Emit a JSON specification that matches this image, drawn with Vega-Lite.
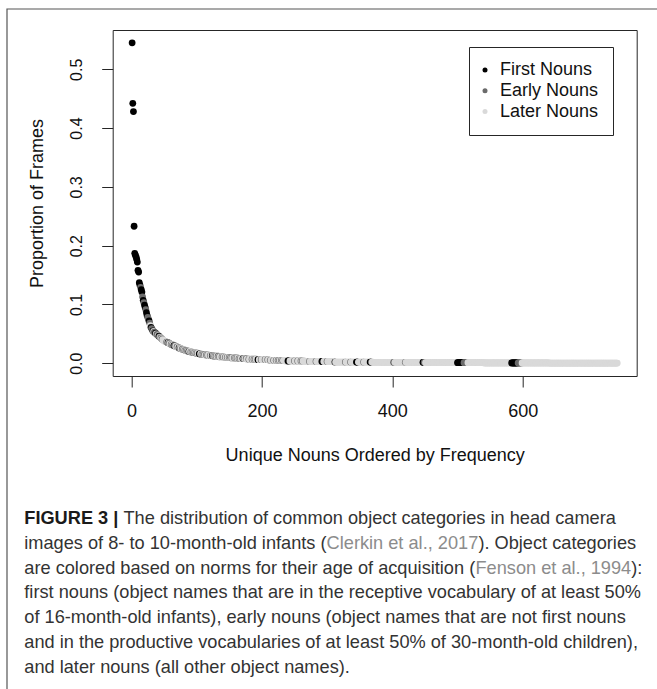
{
"$schema": "https://vega.github.io/schema/vega-lite/v6.json",
"width": 524,
"height": 346,
"autosize": {"type": "none"},
"padding": {"left": 112.7, "top": 30, "right": 20.3, "bottom": 313},
"background": "white",
"config": {
"font": "Liberation Sans",
"view": {"stroke": "#262626", "strokeWidth": 1},
"axis": {"grid": false, "domain": false, "tickColor": "#262626", "tickSize": 11, "labelColor": "#111111", "titleColor": "#111111", "labelFont": "Liberation Sans", "titleFont": "Liberation Sans", "titleFontWeight": "normal"},
"text": {"font": "Liberation Sans"}
},
"resolve": {"scale": {"x": "independent", "y": "independent"}},
"layer": [
{
"data": {"values": [{"frame": "figure"}]},
"mark": {"type": "rect", "filled": false, "stroke": "#555555", "strokeWidth": 1.2},
"encoding": {
"x": {"datum": 0, "type": "quantitative", "scale": {"domain": [0, 1], "range": [-105.7, 560]}, "axis": null},
"x2": {"datum": 1},
"y": {"datum": 0, "type": "quantitative", "scale": {"domain": [0, 1], "range": [-21, 680]}, "axis": null},
"y2": {"datum": 1}
}
},
{
"data": {"values": [
{"n":1,"p":0.545,"t":"F"},{"n":2,"p":0.442,"t":"F"},{"n":3,"p":0.428,"t":"F"},{"n":4,"p":0.233,"t":"F"},{"n":5,"p":0.187,"t":"F"},{"n":6,"p":0.184,"t":"F"},{"n":7,"p":0.181,"t":"F"},{"n":8,"p":0.177,"t":"F"},{"n":9,"p":0.172,"t":"F"},{"n":10,"p":0.158,"t":"F"},
{"n":11,"p":0.155,"t":"F"},{"n":12,"p":0.137,"t":"F"},{"n":13,"p":0.133,"t":"F"},{"n":14,"p":0.129,"t":"E"},{"n":15,"p":0.125,"t":"F"},{"n":16,"p":0.121,"t":"F"},{"n":17,"p":0.113,"t":"E"},{"n":18,"p":0.107,"t":"F"},{"n":19,"p":0.103,"t":"E"},{"n":20,"p":0.099,"t":"F"},
{"n":21,"p":0.095,"t":"F"},{"n":22,"p":0.091,"t":"E"},{"n":23,"p":0.086,"t":"F"},{"n":24,"p":0.081,"t":"F"},{"n":25,"p":0.078,"t":"E"},{"n":26,"p":0.075,"t":"E"},{"n":27,"p":0.072,"t":"F"},{"n":28,"p":0.068,"t":"E"},{"n":29,"p":0.064,"t":"L"},{"n":30,"p":0.061,"t":"F"},
{"n":31,"p":0.059,"t":"E"},{"n":32,"p":0.057,"t":"E"},{"n":33,"p":0.055,"t":"F"},{"n":34,"p":0.054,"t":"L"},{"n":35,"p":0.053,"t":"E"},{"n":36,"p":0.052,"t":"E"},{"n":37,"p":0.051,"t":"F"},{"n":38,"p":0.05,"t":"L"},{"n":39,"p":0.049,"t":"E"},{"n":40,"p":0.048,"t":"E"},
{"n":41,"p":0.047,"t":"L"},{"n":42,"p":0.046,"t":"F"},{"n":43,"p":0.045,"t":"E"},{"n":44,"p":0.044,"t":"L"},{"n":45,"p":0.043,"t":"E"},{"n":46,"p":0.042,"t":"L"},{"n":47,"p":0.041,"t":"E"},{"n":48,"p":0.04,"t":"L"},{"n":49,"p":0.039,"t":"L"},{"n":50,"p":0.038,"t":"L"},
{"n":51,"p":0.0375,"t":"L"},{"n":52,"p":0.037,"t":"L"},{"n":53,"p":0.0365,"t":"L"},{"n":54,"p":0.036,"t":"E"},{"n":55,"p":0.0355,"t":"L"},{"n":56,"p":0.035,"t":"F"},{"n":57,"p":0.0345,"t":"L"},{"n":58,"p":0.034,"t":"E"},{"n":59,"p":0.033,"t":"L"},{"n":60,"p":0.0325,"t":"L"},
{"n":61,"p":0.032,"t":"E"},{"n":62,"p":0.032,"t":"L"},{"n":63,"p":0.031,"t":"E"},{"n":64,"p":0.031,"t":"L"},{"n":65,"p":0.03,"t":"F"},{"n":66,"p":0.03,"t":"E"},{"n":67,"p":0.029,"t":"E"},{"n":68,"p":0.029,"t":"L"},{"n":69,"p":0.028,"t":"L"},{"n":70,"p":0.028,"t":"E"},
{"n":71,"p":0.027,"t":"L"},{"n":72,"p":0.027,"t":"L"},{"n":73,"p":0.026,"t":"F"},{"n":74,"p":0.026,"t":"L"},{"n":75,"p":0.025,"t":"E"},{"n":76,"p":0.025,"t":"L"},{"n":77,"p":0.024,"t":"L"},{"n":78,"p":0.024,"t":"E"},{"n":79,"p":0.023,"t":"L"},{"n":80,"p":0.023,"t":"E"},
{"n":81,"p":0.023,"t":"L"},{"n":82,"p":0.022,"t":"E"},{"n":83,"p":0.022,"t":"L"},{"n":84,"p":0.022,"t":"E"},{"n":85,"p":0.021,"t":"L"},{"n":86,"p":0.021,"t":"E"},{"n":87,"p":0.021,"t":"L"},{"n":88,"p":0.02,"t":"F"},{"n":89,"p":0.02,"t":"L"},{"n":90,"p":0.02,"t":"L"},
{"n":91,"p":0.019,"t":"E"},{"n":92,"p":0.019,"t":"L"},{"n":93,"p":0.019,"t":"E"},{"n":94,"p":0.019,"t":"L"},{"n":95,"p":0.018,"t":"E"},{"n":96,"p":0.018,"t":"L"},{"n":97,"p":0.018,"t":"E"},{"n":98,"p":0.018,"t":"L"},{"n":99,"p":0.017,"t":"E"},{"n":100,"p":0.017,"t":"L"},
{"n":101,"p":0.017,"t":"E"},{"n":102,"p":0.017,"t":"L"},{"n":103,"p":0.016,"t":"L"},{"n":104,"p":0.016,"t":"F"},{"n":105,"p":0.016,"t":"F"},{"n":106,"p":0.016,"t":"L"},{"n":107,"p":0.016,"t":"L"},{"n":108,"p":0.015,"t":"E"},{"n":109,"p":0.015,"t":"L"},{"n":110,"p":0.015,"t":"E"},
{"n":111,"p":0.015,"t":"L"},{"n":112,"p":0.015,"t":"E"},{"n":113,"p":0.014,"t":"L"},{"n":114,"p":0.014,"t":"L"},{"n":115,"p":0.014,"t":"E"},{"n":116,"p":0.014,"t":"L"},{"n":117,"p":0.014,"t":"E"},{"n":118,"p":0.014,"t":"L"},{"n":119,"p":0.013,"t":"L"},{"n":120,"p":0.013,"t":"L"},
{"n":121,"p":0.013,"t":"E"},{"n":122,"p":0.013,"t":"L"},{"n":123,"p":0.013,"t":"L"},{"n":124,"p":0.013,"t":"F"},{"n":125,"p":0.013,"t":"L"},{"n":126,"p":0.012,"t":"E"},{"n":127,"p":0.012,"t":"L"},{"n":128,"p":0.012,"t":"E"},{"n":129,"p":0.012,"t":"L"},{"n":130,"p":0.012,"t":"E"},
{"n":131,"p":0.012,"t":"L"},{"n":132,"p":0.012,"t":"L"},{"n":133,"p":0.012,"t":"E"},{"n":134,"p":0.011,"t":"L"},{"n":135,"p":0.011,"t":"E"},{"n":136,"p":0.011,"t":"L"},{"n":137,"p":0.011,"t":"L"},{"n":138,"p":0.011,"t":"L"},{"n":139,"p":0.011,"t":"E"},{"n":140,"p":0.011,"t":"L"},
{"n":141,"p":0.011,"t":"E"},{"n":142,"p":0.011,"t":"L"},{"n":143,"p":0.01,"t":"L"},{"n":144,"p":0.01,"t":"E"},{"n":145,"p":0.01,"t":"L"},{"n":146,"p":0.01,"t":"L"},{"n":147,"p":0.01,"t":"E"},{"n":148,"p":0.01,"t":"L"},{"n":149,"p":0.01,"t":"L"},{"n":150,"p":0.01,"t":"E"},
{"n":151,"p":0.01,"t":"L"},{"n":152,"p":0.01,"t":"E"},{"n":153,"p":0.009,"t":"L"},{"n":154,"p":0.009,"t":"E"},{"n":155,"p":0.009,"t":"L"},{"n":156,"p":0.009,"t":"L"},{"n":157,"p":0.009,"t":"L"},{"n":158,"p":0.009,"t":"E"},{"n":159,"p":0.009,"t":"L"},{"n":160,"p":0.009,"t":"E"},
{"n":161,"p":0.009,"t":"L"},{"n":162,"p":0.009,"t":"E"},{"n":163,"p":0.009,"t":"L"},{"n":164,"p":0.008,"t":"L"},{"n":165,"p":0.008,"t":"E"},{"n":166,"p":0.008,"t":"L"},{"n":167,"p":0.008,"t":"E"},{"n":168,"p":0.008,"t":"L"},{"n":169,"p":0.008,"t":"L"},{"n":170,"p":0.008,"t":"L"},
{"n":171,"p":0.008,"t":"F"},{"n":172,"p":0.008,"t":"L"},{"n":173,"p":0.008,"t":"E"},{"n":174,"p":0.008,"t":"L"},{"n":175,"p":0.008,"t":"L"},{"n":176,"p":0.008,"t":"E"},{"n":177,"p":0.007,"t":"L"},{"n":178,"p":0.007,"t":"L"},{"n":179,"p":0.007,"t":"L"},{"n":180,"p":0.007,"t":"E"},
{"n":181,"p":0.007,"t":"L"},{"n":182,"p":0.007,"t":"L"},{"n":183,"p":0.007,"t":"L"},{"n":184,"p":0.007,"t":"L"},{"n":185,"p":0.007,"t":"E"},{"n":186,"p":0.007,"t":"L"},{"n":187,"p":0.007,"t":"L"},{"n":188,"p":0.007,"t":"E"},{"n":189,"p":0.007,"t":"L"},{"n":190,"p":0.007,"t":"E"},
{"n":191,"p":0.007,"t":"L"},{"n":192,"p":0.007,"t":"L"},{"n":193,"p":0.006,"t":"L"},{"n":194,"p":0.006,"t":"F"},{"n":195,"p":0.006,"t":"F"},{"n":196,"p":0.006,"t":"L"},{"n":197,"p":0.006,"t":"L"},{"n":198,"p":0.006,"t":"L"},{"n":199,"p":0.006,"t":"E"},{"n":200,"p":0.006,"t":"L"},
{"n":201,"p":0.006,"t":"L"},{"n":202,"p":0.006,"t":"L"},{"n":203,"p":0.006,"t":"L"},{"n":204,"p":0.006,"t":"L"},{"n":205,"p":0.006,"t":"E"},{"n":206,"p":0.006,"t":"L"},{"n":207,"p":0.006,"t":"L"},{"n":208,"p":0.006,"t":"L"},{"n":209,"p":0.006,"t":"E"},{"n":210,"p":0.006,"t":"L"},
{"n":211,"p":0.005,"t":"L"},{"n":212,"p":0.005,"t":"L"},{"n":213,"p":0.005,"t":"E"},{"n":214,"p":0.005,"t":"L"},{"n":215,"p":0.005,"t":"L"},{"n":216,"p":0.005,"t":"L"},{"n":217,"p":0.005,"t":"L"},{"n":218,"p":0.005,"t":"E"},{"n":219,"p":0.005,"t":"L"},{"n":220,"p":0.005,"t":"L"},
{"n":221,"p":0.005,"t":"L"},{"n":222,"p":0.005,"t":"E"},{"n":223,"p":0.005,"t":"L"},{"n":224,"p":0.005,"t":"L"},{"n":225,"p":0.005,"t":"E"},{"n":226,"p":0.005,"t":"L"},{"n":227,"p":0.005,"t":"E"},{"n":228,"p":0.005,"t":"L"},{"n":229,"p":0.005,"t":"L"},{"n":230,"p":0.005,"t":"E"},
{"n":231,"p":0.005,"t":"L"},{"n":232,"p":0.005,"t":"E"},{"n":233,"p":0.005,"t":"L"},{"n":234,"p":0.005,"t":"L"},{"n":235,"p":0.005,"t":"L"},{"n":236,"p":0.004,"t":"L"},{"n":237,"p":0.004,"t":"L"},{"n":238,"p":0.004,"t":"L"},{"n":239,"p":0.004,"t":"L"},{"n":240,"p":0.004,"t":"F"},
{"n":241,"p":0.004,"t":"F"},{"n":242,"p":0.004,"t":"F"},{"n":243,"p":0.004,"t":"L"},{"n":244,"p":0.004,"t":"L"},{"n":245,"p":0.004,"t":"L"},{"n":246,"p":0.004,"t":"L"},{"n":247,"p":0.004,"t":"L"},{"n":248,"p":0.004,"t":"L"},{"n":249,"p":0.004,"t":"L"},{"n":250,"p":0.004,"t":"E"},
{"n":251,"p":0.004,"t":"L"},{"n":252,"p":0.004,"t":"L"},{"n":253,"p":0.004,"t":"L"},{"n":254,"p":0.004,"t":"L"},{"n":255,"p":0.004,"t":"E"},{"n":256,"p":0.004,"t":"L"},{"n":257,"p":0.004,"t":"L"},{"n":258,"p":0.004,"t":"L"},{"n":259,"p":0.004,"t":"L"},{"n":260,"p":0.004,"t":"E"},
{"n":261,"p":0.004,"t":"L"},{"n":262,"p":0.004,"t":"E"},{"n":263,"p":0.004,"t":"L"},{"n":264,"p":0.004,"t":"L"},{"n":265,"p":0.004,"t":"L"},{"n":266,"p":0.003,"t":"L"},{"n":267,"p":0.003,"t":"L"},{"n":268,"p":0.003,"t":"L"},{"n":269,"p":0.003,"t":"L"},{"n":270,"p":0.003,"t":"L"},
{"n":271,"p":0.003,"t":"L"},{"n":272,"p":0.003,"t":"L"},{"n":273,"p":0.003,"t":"E"},{"n":274,"p":0.003,"t":"L"},{"n":275,"p":0.003,"t":"L"},{"n":276,"p":0.003,"t":"L"},{"n":277,"p":0.003,"t":"L"},{"n":278,"p":0.003,"t":"L"},{"n":279,"p":0.003,"t":"L"},{"n":280,"p":0.003,"t":"L"},
{"n":281,"p":0.003,"t":"L"},{"n":282,"p":0.003,"t":"L"},{"n":283,"p":0.003,"t":"E"},{"n":284,"p":0.003,"t":"L"},{"n":285,"p":0.003,"t":"L"},{"n":286,"p":0.003,"t":"L"},{"n":287,"p":0.003,"t":"L"},{"n":288,"p":0.003,"t":"L"},{"n":289,"p":0.003,"t":"L"},{"n":290,"p":0.003,"t":"L"},
{"n":291,"p":0.003,"t":"L"},{"n":292,"p":0.003,"t":"F"},{"n":293,"p":0.003,"t":"F"},{"n":294,"p":0.003,"t":"F"},{"n":295,"p":0.003,"t":"L"},{"n":296,"p":0.003,"t":"L"},{"n":297,"p":0.003,"t":"L"},{"n":298,"p":0.003,"t":"L"},{"n":299,"p":0.003,"t":"L"},{"n":300,"p":0.003,"t":"E"},
{"n":301,"p":0.003,"t":"L"},{"n":302,"p":0.003,"t":"L"},{"n":303,"p":0.003,"t":"L"},{"n":304,"p":0.003,"t":"L"},{"n":305,"p":0.003,"t":"L"},{"n":306,"p":0.003,"t":"L"},{"n":307,"p":0.003,"t":"L"},{"n":308,"p":0.003,"t":"L"},{"n":309,"p":0.003,"t":"L"},{"n":310,"p":0.003,"t":"L"},
{"n":311,"p":0.002,"t":"L"},{"n":312,"p":0.002,"t":"F"},{"n":313,"p":0.002,"t":"L"},{"n":314,"p":0.002,"t":"L"},{"n":315,"p":0.002,"t":"L"},{"n":316,"p":0.002,"t":"L"},{"n":317,"p":0.002,"t":"L"},{"n":318,"p":0.002,"t":"L"},{"n":319,"p":0.002,"t":"L"},{"n":320,"p":0.002,"t":"L"},
{"n":321,"p":0.002,"t":"L"},{"n":322,"p":0.002,"t":"L"},{"n":323,"p":0.002,"t":"L"},{"n":324,"p":0.002,"t":"L"},{"n":325,"p":0.002,"t":"L"},{"n":326,"p":0.002,"t":"L"},{"n":327,"p":0.002,"t":"L"},{"n":328,"p":0.002,"t":"E"},{"n":329,"p":0.002,"t":"L"},{"n":330,"p":0.002,"t":"L"},
{"n":331,"p":0.002,"t":"L"},{"n":332,"p":0.002,"t":"L"},{"n":333,"p":0.002,"t":"L"},{"n":334,"p":0.002,"t":"L"},{"n":335,"p":0.002,"t":"L"},{"n":336,"p":0.002,"t":"E"},{"n":337,"p":0.002,"t":"L"},{"n":338,"p":0.002,"t":"L"},{"n":339,"p":0.002,"t":"L"},{"n":340,"p":0.002,"t":"L"},
{"n":341,"p":0.002,"t":"L"},{"n":342,"p":0.002,"t":"L"},{"n":343,"p":0.002,"t":"L"},{"n":344,"p":0.002,"t":"L"},{"n":345,"p":0.002,"t":"F"},{"n":346,"p":0.002,"t":"F"},{"n":347,"p":0.002,"t":"F"},{"n":348,"p":0.002,"t":"L"},{"n":349,"p":0.002,"t":"L"},{"n":350,"p":0.002,"t":"L"},
{"n":351,"p":0.002,"t":"L"},{"n":352,"p":0.002,"t":"L"},{"n":353,"p":0.002,"t":"L"},{"n":354,"p":0.002,"t":"L"},{"n":355,"p":0.002,"t":"L"},{"n":356,"p":0.002,"t":"E"},{"n":357,"p":0.002,"t":"L"},{"n":358,"p":0.002,"t":"L"},{"n":359,"p":0.002,"t":"L"},{"n":360,"p":0.002,"t":"L"},
{"n":361,"p":0.002,"t":"L"},{"n":362,"p":0.002,"t":"L"},{"n":363,"p":0.002,"t":"L"},{"n":364,"p":0.002,"t":"L"},{"n":365,"p":0.002,"t":"L"},{"n":366,"p":0.002,"t":"F"},{"n":367,"p":0.002,"t":"F"},{"n":368,"p":0.002,"t":"E"},{"n":369,"p":0.002,"t":"L"},{"n":370,"p":0.002,"t":"L"},
{"n":371,"p":0.0015,"t":"L"},{"n":372,"p":0.0015,"t":"L"},{"n":373,"p":0.0015,"t":"L"},{"n":374,"p":0.0015,"t":"L"},{"n":375,"p":0.0015,"t":"L"},{"n":376,"p":0.0015,"t":"L"},{"n":377,"p":0.0015,"t":"L"},{"n":378,"p":0.0015,"t":"L"},{"n":379,"p":0.0015,"t":"L"},{"n":380,"p":0.0015,"t":"L"},
{"n":381,"p":0.0015,"t":"L"},{"n":382,"p":0.0015,"t":"L"},{"n":383,"p":0.0015,"t":"L"},{"n":384,"p":0.0015,"t":"L"},{"n":385,"p":0.0015,"t":"L"},{"n":386,"p":0.0015,"t":"L"},{"n":387,"p":0.0015,"t":"L"},{"n":388,"p":0.0015,"t":"L"},{"n":389,"p":0.0015,"t":"L"},{"n":390,"p":0.0015,"t":"L"},
{"n":391,"p":0.0015,"t":"L"},{"n":392,"p":0.0015,"t":"L"},{"n":393,"p":0.0015,"t":"L"},{"n":394,"p":0.0015,"t":"L"},{"n":395,"p":0.0015,"t":"L"},{"n":396,"p":0.0015,"t":"L"},{"n":397,"p":0.0015,"t":"L"},{"n":398,"p":0.0015,"t":"L"},{"n":399,"p":0.0015,"t":"L"},{"n":400,"p":0.0015,"t":"L"},
{"n":401,"p":0.0015,"t":"L"},{"n":402,"p":0.0015,"t":"E"},{"n":403,"p":0.0015,"t":"E"},{"n":404,"p":0.0015,"t":"L"},{"n":405,"p":0.0015,"t":"L"},{"n":406,"p":0.0015,"t":"L"},{"n":407,"p":0.0015,"t":"L"},{"n":408,"p":0.0015,"t":"L"},{"n":409,"p":0.0015,"t":"L"},{"n":410,"p":0.0015,"t":"L"},
{"n":411,"p":0.0015,"t":"L"},{"n":412,"p":0.0015,"t":"L"},{"n":413,"p":0.0015,"t":"L"},{"n":414,"p":0.0015,"t":"L"},{"n":415,"p":0.0015,"t":"L"},{"n":416,"p":0.0015,"t":"L"},{"n":417,"p":0.0015,"t":"L"},{"n":418,"p":0.0015,"t":"L"},{"n":419,"p":0.0015,"t":"L"},{"n":420,"p":0.0015,"t":"E"},
{"n":421,"p":0.0015,"t":"L"},{"n":422,"p":0.0015,"t":"L"},{"n":423,"p":0.0015,"t":"L"},{"n":424,"p":0.0015,"t":"L"},{"n":425,"p":0.0015,"t":"L"},{"n":426,"p":0.0015,"t":"L"},{"n":427,"p":0.0015,"t":"L"},{"n":428,"p":0.0015,"t":"L"},{"n":429,"p":0.0015,"t":"L"},{"n":430,"p":0.0015,"t":"L"},
{"n":431,"p":0.0015,"t":"L"},{"n":432,"p":0.0015,"t":"L"},{"n":433,"p":0.0015,"t":"L"},{"n":434,"p":0.0015,"t":"L"},{"n":435,"p":0.0015,"t":"L"},{"n":436,"p":0.0015,"t":"L"},{"n":437,"p":0.0015,"t":"L"},{"n":438,"p":0.0015,"t":"L"},{"n":439,"p":0.0015,"t":"L"},{"n":440,"p":0.0015,"t":"L"},
{"n":441,"p":0.0015,"t":"L"},{"n":442,"p":0.0015,"t":"L"},{"n":443,"p":0.0015,"t":"L"},{"n":444,"p":0.0015,"t":"L"},{"n":445,"p":0.0015,"t":"L"},{"n":446,"p":0.0015,"t":"L"},{"n":447,"p":0.0015,"t":"F"},{"n":448,"p":0.0015,"t":"F"},{"n":449,"p":0.0015,"t":"E"},{"n":450,"p":0.0015,"t":"E"},
{"n":451,"p":0.001,"t":"L"},{"n":452,"p":0.001,"t":"L"},{"n":453,"p":0.001,"t":"L"},{"n":454,"p":0.001,"t":"L"},{"n":455,"p":0.001,"t":"L"},{"n":456,"p":0.001,"t":"L"},{"n":457,"p":0.001,"t":"L"},{"n":458,"p":0.001,"t":"L"},{"n":459,"p":0.001,"t":"L"},{"n":460,"p":0.001,"t":"L"},
{"n":461,"p":0.001,"t":"L"},{"n":462,"p":0.001,"t":"L"},{"n":463,"p":0.001,"t":"L"},{"n":464,"p":0.001,"t":"L"},{"n":465,"p":0.001,"t":"L"},{"n":466,"p":0.001,"t":"L"},{"n":467,"p":0.001,"t":"L"},{"n":468,"p":0.001,"t":"L"},{"n":469,"p":0.001,"t":"L"},{"n":470,"p":0.001,"t":"L"},
{"n":471,"p":0.001,"t":"L"},{"n":472,"p":0.001,"t":"L"},{"n":473,"p":0.001,"t":"L"},{"n":474,"p":0.001,"t":"L"},{"n":475,"p":0.001,"t":"L"},{"n":476,"p":0.001,"t":"L"},{"n":477,"p":0.001,"t":"L"},{"n":478,"p":0.001,"t":"L"},{"n":479,"p":0.001,"t":"L"},{"n":480,"p":0.001,"t":"L"},
{"n":481,"p":0.001,"t":"L"},{"n":482,"p":0.001,"t":"L"},{"n":483,"p":0.001,"t":"L"},{"n":484,"p":0.001,"t":"L"},{"n":485,"p":0.001,"t":"L"},{"n":486,"p":0.001,"t":"L"},{"n":487,"p":0.001,"t":"L"},{"n":488,"p":0.001,"t":"L"},{"n":489,"p":0.001,"t":"L"},{"n":490,"p":0.001,"t":"L"},
{"n":491,"p":0.001,"t":"L"},{"n":492,"p":0.001,"t":"L"},{"n":493,"p":0.001,"t":"L"},{"n":494,"p":0.001,"t":"L"},{"n":495,"p":0.001,"t":"L"},{"n":496,"p":0.001,"t":"L"},{"n":497,"p":0.001,"t":"L"},{"n":498,"p":0.001,"t":"L"},{"n":499,"p":0.001,"t":"L"},{"n":500,"p":0.001,"t":"F"},
{"n":501,"p":0.001,"t":"F"},{"n":502,"p":0.001,"t":"F"},{"n":503,"p":0.001,"t":"F"},{"n":504,"p":0.001,"t":"F"},{"n":505,"p":0.001,"t":"F"},{"n":506,"p":0.001,"t":"F"},{"n":507,"p":0.001,"t":"F"},{"n":508,"p":0.001,"t":"F"},{"n":509,"p":0.001,"t":"F"},{"n":510,"p":0.001,"t":"E"},
{"n":511,"p":0.001,"t":"E"},{"n":512,"p":0.001,"t":"E"},{"n":513,"p":0.001,"t":"E"},{"n":514,"p":0.001,"t":"E"},{"n":515,"p":0.001,"t":"E"},{"n":516,"p":0.001,"t":"L"},{"n":517,"p":0.001,"t":"L"},{"n":518,"p":0.001,"t":"L"},{"n":519,"p":0.001,"t":"L"},{"n":520,"p":0.001,"t":"L"},
{"n":521,"p":0.001,"t":"L"},{"n":522,"p":0.001,"t":"L"},{"n":523,"p":0.001,"t":"L"},{"n":524,"p":0.001,"t":"L"},{"n":525,"p":0.001,"t":"L"},{"n":526,"p":0.001,"t":"L"},{"n":527,"p":0.001,"t":"L"},{"n":528,"p":0.001,"t":"L"},{"n":529,"p":0.001,"t":"L"},{"n":530,"p":0.001,"t":"L"},
{"n":531,"p":0.001,"t":"L"},{"n":532,"p":0.001,"t":"L"},{"n":533,"p":0.001,"t":"L"},{"n":534,"p":0.001,"t":"L"},{"n":535,"p":0.001,"t":"L"},{"n":536,"p":0.001,"t":"L"},{"n":537,"p":0.001,"t":"L"},{"n":538,"p":0.001,"t":"L"},{"n":539,"p":0.001,"t":"L"},{"n":540,"p":0.001,"t":"L"},
{"n":541,"p":0.0005,"t":"L"},{"n":542,"p":0.0005,"t":"L"},{"n":543,"p":0.0005,"t":"L"},{"n":544,"p":0.0005,"t":"L"},{"n":545,"p":0.0005,"t":"L"},{"n":546,"p":0.0005,"t":"L"},{"n":547,"p":0.0005,"t":"L"},{"n":548,"p":0.0005,"t":"L"},{"n":549,"p":0.0005,"t":"L"},{"n":550,"p":0.0005,"t":"L"},
{"n":551,"p":0.0005,"t":"L"},{"n":552,"p":0.0005,"t":"L"},{"n":553,"p":0.0005,"t":"L"},{"n":554,"p":0.0005,"t":"L"},{"n":555,"p":0.0005,"t":"L"},{"n":556,"p":0.0005,"t":"L"},{"n":557,"p":0.0005,"t":"L"},{"n":558,"p":0.0005,"t":"L"},{"n":559,"p":0.0005,"t":"L"},{"n":560,"p":0.0005,"t":"L"},
{"n":561,"p":0.0005,"t":"L"},{"n":562,"p":0.0005,"t":"L"},{"n":563,"p":0.0005,"t":"L"},{"n":564,"p":0.0005,"t":"L"},{"n":565,"p":0.0005,"t":"L"},{"n":566,"p":0.0005,"t":"L"},{"n":567,"p":0.0005,"t":"L"},{"n":568,"p":0.0005,"t":"L"},{"n":569,"p":0.0005,"t":"L"},{"n":570,"p":0.0005,"t":"L"},
{"n":571,"p":0.0005,"t":"L"},{"n":572,"p":0.0005,"t":"L"},{"n":573,"p":0.0005,"t":"L"},{"n":574,"p":0.0005,"t":"L"},{"n":575,"p":0.0005,"t":"L"},{"n":576,"p":0.0005,"t":"L"},{"n":577,"p":0.0005,"t":"L"},{"n":578,"p":0.0005,"t":"L"},{"n":579,"p":0.0005,"t":"L"},{"n":580,"p":0.0005,"t":"L"},
{"n":581,"p":0.0005,"t":"L"},{"n":582,"p":0.0005,"t":"L"},{"n":583,"p":0.0005,"t":"F"},{"n":584,"p":0.0005,"t":"F"},{"n":585,"p":0.0005,"t":"F"},{"n":586,"p":0.0005,"t":"F"},{"n":587,"p":0.0005,"t":"F"},{"n":588,"p":0.0005,"t":"F"},{"n":589,"p":0.0005,"t":"F"},{"n":590,"p":0.0005,"t":"F"},
{"n":591,"p":0.0005,"t":"F"},{"n":592,"p":0.0005,"t":"F"},{"n":593,"p":0.0005,"t":"E"},{"n":594,"p":0.0005,"t":"E"},{"n":595,"p":0.0005,"t":"E"},{"n":596,"p":0.0005,"t":"E"},{"n":597,"p":0.0005,"t":"E"},{"n":598,"p":0.0005,"t":"E"},{"n":599,"p":0.0005,"t":"L"},{"n":600,"p":0.0005,"t":"L"},
{"n":601,"p":0.0005,"t":"L"},{"n":602,"p":0.0005,"t":"L"},{"n":603,"p":0.0005,"t":"L"},{"n":604,"p":0.0005,"t":"L"},{"n":605,"p":0.0005,"t":"L"},{"n":606,"p":0.0005,"t":"L"},{"n":607,"p":0.0005,"t":"L"},{"n":608,"p":0.0005,"t":"L"},{"n":609,"p":0.0005,"t":"L"},{"n":610,"p":0.0005,"t":"L"},
{"n":611,"p":0.0005,"t":"L"},{"n":612,"p":0.0005,"t":"L"},{"n":613,"p":0.0005,"t":"L"},{"n":614,"p":0.0005,"t":"L"},{"n":615,"p":0.0005,"t":"L"},{"n":616,"p":0.0005,"t":"L"},{"n":617,"p":0.0005,"t":"L"},{"n":618,"p":0.0005,"t":"L"},{"n":619,"p":0.0005,"t":"L"},{"n":620,"p":0.0005,"t":"L"},
{"n":621,"p":0.0005,"t":"L"},{"n":622,"p":0.0005,"t":"L"},{"n":623,"p":0.0005,"t":"L"},{"n":624,"p":0.0005,"t":"L"},{"n":625,"p":0.0005,"t":"L"},{"n":626,"p":0.0005,"t":"L"},{"n":627,"p":0.0005,"t":"L"},{"n":628,"p":0.0005,"t":"L"},{"n":629,"p":0.0005,"t":"L"},{"n":630,"p":0.0005,"t":"L"},
{"n":631,"p":0.0005,"t":"L"},{"n":632,"p":0.0005,"t":"L"},{"n":633,"p":0.0005,"t":"L"},{"n":634,"p":0.0005,"t":"L"},{"n":635,"p":0.0005,"t":"L"},{"n":636,"p":0.0005,"t":"L"},{"n":637,"p":0.0005,"t":"L"},{"n":638,"p":0.0005,"t":"L"},{"n":639,"p":0.0005,"t":"L"},{"n":640,"p":0.0005,"t":"L"},
{"n":641,"p":0.0002,"t":"L"},{"n":642,"p":0.0002,"t":"L"},{"n":643,"p":0.0002,"t":"L"},{"n":644,"p":0.0002,"t":"L"},{"n":645,"p":0.0002,"t":"L"},{"n":646,"p":0.0002,"t":"L"},{"n":647,"p":0.0002,"t":"L"},{"n":648,"p":0.0002,"t":"L"},{"n":649,"p":0.0002,"t":"L"},{"n":650,"p":0.0002,"t":"L"},
{"n":651,"p":0.0002,"t":"L"},{"n":652,"p":0.0002,"t":"L"},{"n":653,"p":0.0002,"t":"L"},{"n":654,"p":0.0002,"t":"L"},{"n":655,"p":0.0002,"t":"L"},{"n":656,"p":0.0002,"t":"L"},{"n":657,"p":0.0002,"t":"L"},{"n":658,"p":0.0002,"t":"L"},{"n":659,"p":0.0002,"t":"L"},{"n":660,"p":0.0002,"t":"L"},
{"n":661,"p":0.0002,"t":"L"},{"n":662,"p":0.0002,"t":"L"},{"n":663,"p":0.0002,"t":"L"},{"n":664,"p":0.0002,"t":"L"},{"n":665,"p":0.0002,"t":"L"},{"n":666,"p":0.0002,"t":"L"},{"n":667,"p":0.0002,"t":"L"},{"n":668,"p":0.0002,"t":"L"},{"n":669,"p":0.0002,"t":"L"},{"n":670,"p":0.0002,"t":"L"},
{"n":671,"p":0.0002,"t":"L"},{"n":672,"p":0.0002,"t":"L"},{"n":673,"p":0.0002,"t":"L"},{"n":674,"p":0.0002,"t":"L"},{"n":675,"p":0.0002,"t":"L"},{"n":676,"p":0.0002,"t":"L"},{"n":677,"p":0.0002,"t":"L"},{"n":678,"p":0.0002,"t":"L"},{"n":679,"p":0.0002,"t":"L"},{"n":680,"p":0.0002,"t":"L"},
{"n":681,"p":0.0002,"t":"L"},{"n":682,"p":0.0002,"t":"L"},{"n":683,"p":0.0002,"t":"L"},{"n":684,"p":0.0002,"t":"L"},{"n":685,"p":0.0002,"t":"L"},{"n":686,"p":0.0002,"t":"L"},{"n":687,"p":0.0002,"t":"L"},{"n":688,"p":0.0002,"t":"L"},{"n":689,"p":0.0002,"t":"L"},{"n":690,"p":0.0002,"t":"L"},
{"n":691,"p":0.0002,"t":"L"},{"n":692,"p":0.0002,"t":"L"},{"n":693,"p":0.0002,"t":"L"},{"n":694,"p":0.0002,"t":"L"},{"n":695,"p":0.0002,"t":"L"},{"n":696,"p":0.0002,"t":"L"},{"n":697,"p":0.0002,"t":"L"},{"n":698,"p":0.0002,"t":"L"},{"n":699,"p":0.0002,"t":"L"},{"n":700,"p":0.0002,"t":"L"},
{"n":701,"p":0.0002,"t":"L"},{"n":702,"p":0.0002,"t":"L"},{"n":703,"p":0.0002,"t":"L"},{"n":704,"p":0.0002,"t":"L"},{"n":705,"p":0.0002,"t":"L"},{"n":706,"p":0.0002,"t":"L"},{"n":707,"p":0.0002,"t":"L"},{"n":708,"p":0.0002,"t":"L"},{"n":709,"p":0.0002,"t":"L"},{"n":710,"p":0.0002,"t":"L"},
{"n":711,"p":0.0002,"t":"L"},{"n":712,"p":0.0002,"t":"L"},{"n":713,"p":0.0002,"t":"L"},{"n":714,"p":0.0002,"t":"L"},{"n":715,"p":0.0002,"t":"L"},{"n":716,"p":0.0002,"t":"L"},{"n":717,"p":0.0002,"t":"L"},{"n":718,"p":0.0002,"t":"L"},{"n":719,"p":0.0002,"t":"L"},{"n":720,"p":0.0002,"t":"L"},
{"n":721,"p":0.0002,"t":"L"},{"n":722,"p":0.0002,"t":"L"},{"n":723,"p":0.0002,"t":"L"},{"n":724,"p":0.0002,"t":"L"},{"n":725,"p":0.0002,"t":"L"},{"n":726,"p":0.0002,"t":"L"},{"n":727,"p":0.0002,"t":"L"},{"n":728,"p":0.0002,"t":"L"},{"n":729,"p":0.0002,"t":"L"},{"n":730,"p":0.0002,"t":"L"},
{"n":731,"p":0.0002,"t":"L"},{"n":732,"p":0.0002,"t":"L"},{"n":733,"p":0.0002,"t":"L"},{"n":734,"p":0.0002,"t":"L"},{"n":735,"p":0.0002,"t":"L"},{"n":736,"p":0.0002,"t":"L"},{"n":737,"p":0.0002,"t":"L"},{"n":738,"p":0.0002,"t":"L"},{"n":739,"p":0.0002,"t":"L"},{"n":740,"p":0.0002,"t":"L"},
{"n":741,"p":0.0002,"t":"L"},{"n":742,"p":0.0002,"t":"L"},{"n":743,"p":0.0002,"t":"L"},{"n":744,"p":0.0002,"t":"L"},{"n":745,"p":0.0002,"t":"L"}
]},
"mark": {"type": "circle", "size": 46, "opacity": 1},
"encoding": {
"x": {"field": "n", "type": "quantitative", "scale": {"domain": [-28.8, 774.8], "nice": false, "zero": false},
"axis": {"values": [0, 200, 400, 600], "title": "Unique Nouns Ordered by Frequency", "labelFontSize": 18, "labelPadding": 29, "labelBaseline": "alphabetic", "labelFlush": false, "titleFontSize": 18, "titleX": 262, "titleY": 84, "titleBaseline": "alphabetic", "titleAlign": "center", "titleAnchor": null}},
"y": {"field": "p", "type": "quantitative", "scale": {"domain": [-0.0217, 0.5668], "nice": false, "zero": false},
"axis": {"values": [0, 0.1, 0.2, 0.3, 0.4, 0.5], "format": ".1f", "title": "Proportion of Frames", "labelAngle": -90, "labelAlign": "center", "labelBaseline": "alphabetic", "labelFontSize": 16, "labelPadding": 20, "labelFlush": false, "titleFontSize": 18, "titleAngle": -90, "titleX": -70, "titleY": 173, "titleAlign": "center", "titleBaseline": "alphabetic"}},
"color": {"field": "t", "type": "nominal", "scale": {"domain": ["F", "E", "L"], "range": ["#000000", "#6b6b6b", "#d9d9d9"]},
"legend": {"orient": "none", "legendX": 356.3, "legendY": 17, "title": null, "direction": "vertical", "padding": 14, "strokeColor": "#262626", "fillColor": "white", "labelFontSize": 18, "labelColor": "#111111", "labelFont": "Liberation Sans", "labelOffset": 6, "symbolOffset": -7, "rowPadding": 2.8, "symbolSize": 25, "symbolType": "circle", "symbolStrokeWidth": 0,
"labelExpr": "datum.label == 'F' ? 'First Nouns' : datum.label == 'E' ? 'Early Nouns' : 'Later Nouns'"}}
}
},
{
"data": {"values": [{"line": 1, "text": "FIGURE 3 |"}]},
"mark": {"type": "text", "align": "left", "baseline": "alphabetic", "fontSize": 18.2, "fontWeight": "bold", "color": "#1a1a1a"},
"encoding": {
"x": {"datum": 0, "type": "quantitative", "scale": {"domain": [0, 1], "range": [-88.4, 435.6]}, "axis": null},
"y": {"field": "line", "type": "quantitative", "scale": {"domain": [1, 7], "range": [494, 642.5]}, "axis": null},
"text": {"field": "text"}
}
},
{
"data": {"values": [{"line": 1, "text": "The distribution of common object categories in head camera"}]},
"mark": {"type": "text", "align": "left", "baseline": "alphabetic", "fontSize": 18.2, "color": "#333333", "dx": 99.2},
"encoding": {
"x": {"datum": 0, "type": "quantitative", "scale": {"domain": [0, 1], "range": [-88.4, 435.6]}, "axis": null},
"y": {"field": "line", "type": "quantitative", "scale": {"domain": [1, 7], "range": [494, 642.5]}, "axis": null},
"text": {"field": "text"}
}
},
{
"data": {"values": [
{"line": 2, "text": "images of 8- to 10-month-old infants ("},
{"line": 3, "text": "are colored based on norms for their age of acquisition ("},
{"line": 4, "text": "first nouns (object names that are in the receptive vocabulary of at least 50%"},
{"line": 5, "text": "of 16-month-old infants), early nouns (object names that are not first nouns"},
{"line": 6, "text": "and in the productive vocabularies of at least 50% of 30-month-old children),"},
{"line": 7, "text": "and later nouns (all other object names)."}
]},
"mark": {"type": "text", "align": "left", "baseline": "alphabetic", "fontSize": 18.2, "color": "#333333"},
"encoding": {
"x": {"datum": 0, "type": "quantitative", "scale": {"domain": [0, 1], "range": [-88.4, 435.6]}, "axis": null},
"y": {"field": "line", "type": "quantitative", "scale": {"domain": [1, 7], "range": [494, 642.5]}, "axis": null},
"text": {"field": "text"}
}
},
{
"data": {"values": [{"line": 2, "text": "Clerkin et al., 2017"}]},
"mark": {"type": "text", "align": "left", "baseline": "alphabetic", "fontSize": 18.2, "color": "#8c8c8c", "dx": 302.3},
"encoding": {
"x": {"datum": 0, "type": "quantitative", "scale": {"domain": [0, 1], "range": [-88.4, 435.6]}, "axis": null},
"y": {"field": "line", "type": "quantitative", "scale": {"domain": [1, 7], "range": [494, 642.5]}, "axis": null},
"text": {"field": "text"}
}
},
{
"data": {"values": [{"line": 2, "text": "). Object categories"}]},
"mark": {"type": "text", "align": "left", "baseline": "alphabetic", "fontSize": 18.2, "color": "#333333", "dx": 454.1},
"encoding": {
"x": {"datum": 0, "type": "quantitative", "scale": {"domain": [0, 1], "range": [-88.4, 435.6]}, "axis": null},
"y": {"field": "line", "type": "quantitative", "scale": {"domain": [1, 7], "range": [494, 642.5]}, "axis": null},
"text": {"field": "text"}
}
},
{
"data": {"values": [{"line": 3, "text": "Fenson et al., 1994"}]},
"mark": {"type": "text", "align": "left", "baseline": "alphabetic", "fontSize": 18.2, "color": "#8c8c8c", "dx": 451.2},
"encoding": {
"x": {"datum": 0, "type": "quantitative", "scale": {"domain": [0, 1], "range": [-88.4, 435.6]}, "axis": null},
"y": {"field": "line", "type": "quantitative", "scale": {"domain": [1, 7], "range": [494, 642.5]}, "axis": null},
"text": {"field": "text"}
}
},
{
"data": {"values": [{"line": 3, "text": "):"}]},
"mark": {"type": "text", "align": "left", "baseline": "alphabetic", "fontSize": 18.2, "color": "#333333", "dx": 607.0},
"encoding": {
"x": {"datum": 0, "type": "quantitative", "scale": {"domain": [0, 1], "range": [-88.4, 435.6]}, "axis": null},
"y": {"field": "line", "type": "quantitative", "scale": {"domain": [1, 7], "range": [494, 642.5]}, "axis": null},
"text": {"field": "text"}
}
}
]
}
